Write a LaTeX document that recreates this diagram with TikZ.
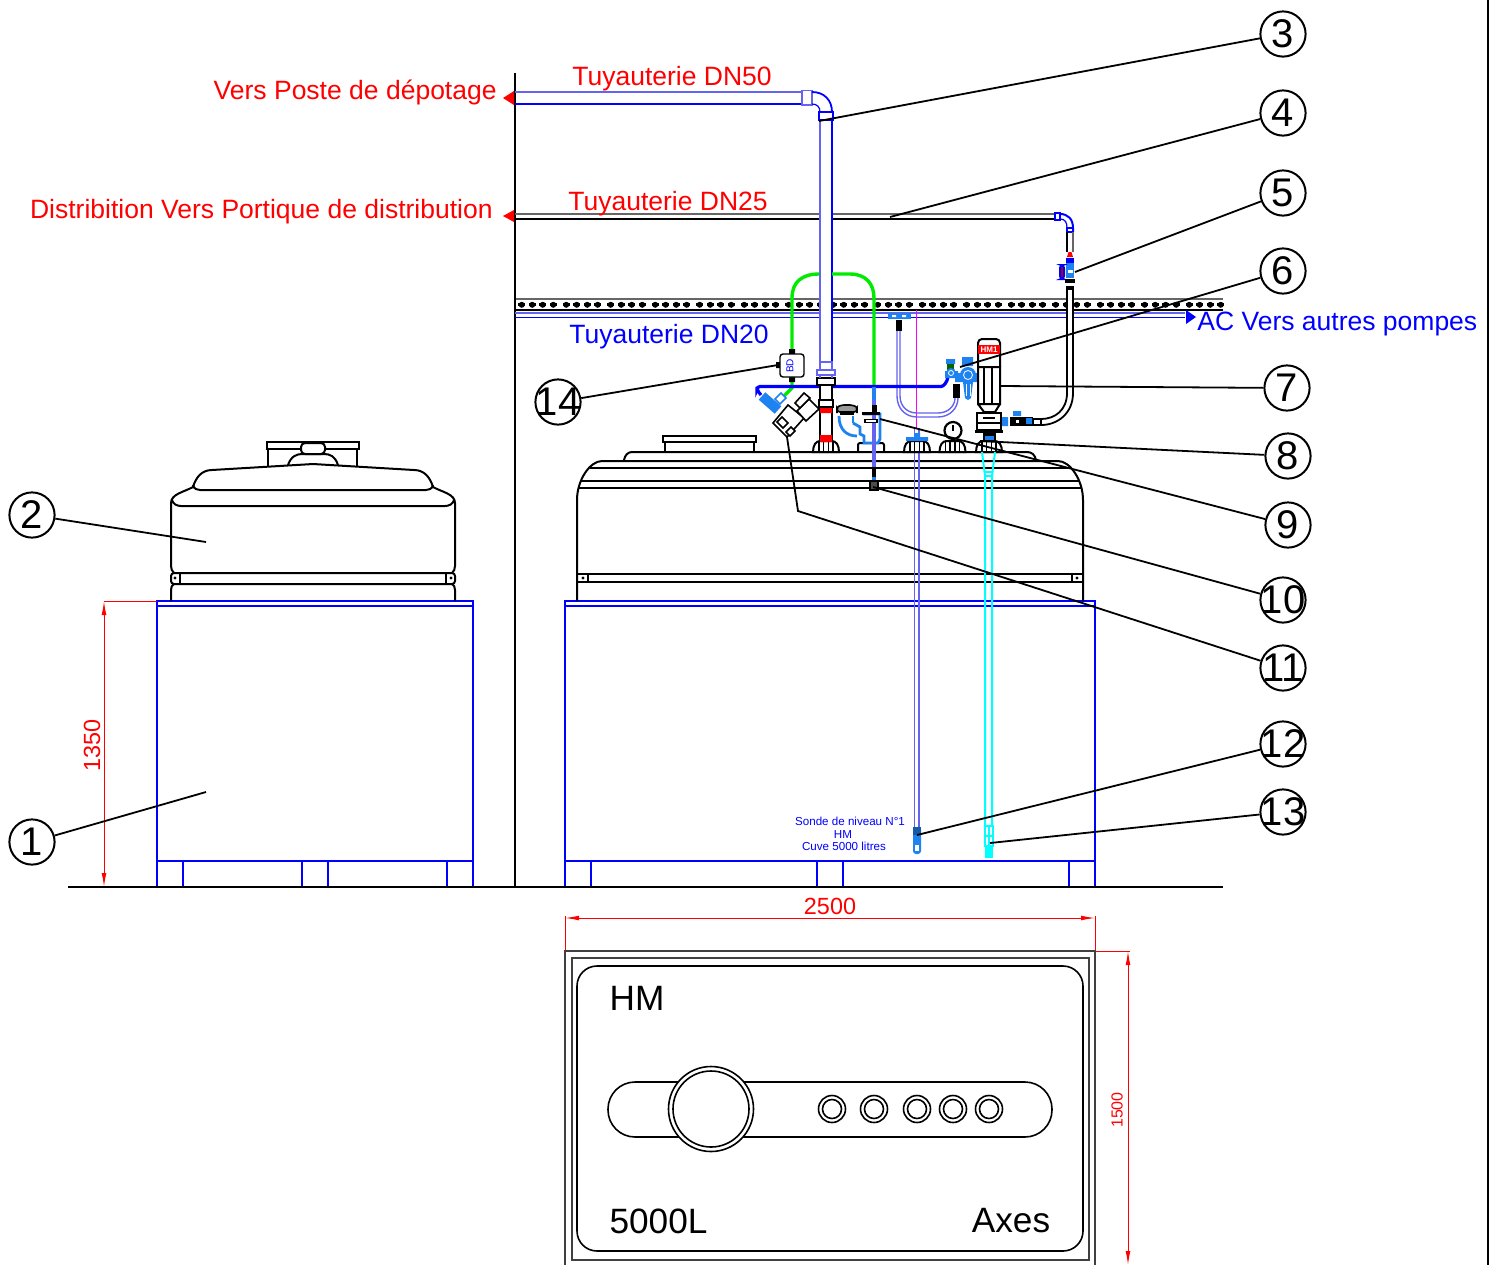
\documentclass[tikz,border=0pt]{standalone}
\usepackage{fontspec}
\setmainfont{Liberation Sans}
\usetikzlibrary{arrows.meta}
\definecolor{pipeblue}{RGB}{0,0,255}
\definecolor{softblue}{RGB}{100,100,240}
\definecolor{fitblue}{RGB}{30,130,240}
\definecolor{hosegreen}{RGB}{0,235,0}
\definecolor{tubecyan}{RGB}{0,255,255}
\definecolor{tubemag}{RGB}{255,0,255}
\tikzset{
  tk/.style={draw=black, line width=1pt},
  fine/.style={draw=black, line width=0.6pt},
  stand/.style={draw=pipeblue, line width=1pt},
  bluep/.style={draw=pipeblue, line width=0.6pt},
  softp/.style={draw=softblue, line width=0.9pt},
  fitp/.style={draw=fitblue, line width=1.4pt},
  cyanp/.style={draw=tubecyan, line width=1pt},
  lead/.style={draw=black, line width=0.9pt},
  dim/.style={draw=red, line width=0.5pt},
  dimboth/.style={dim, {Latex[length=7pt,width=2.4pt]}-{Latex[length=7pt,width=2.4pt]}},
  callout/.style={circle, draw=black, line width=1pt, fill=white, minimum size=22.6pt, inner sep=0pt, font=\fontsize{20}{22}\selectfont},
  redtxt/.style={text=red, inner sep=0pt, font=\fontsize{13.25}{15}\selectfont},
  bluetxt/.style={text=pipeblue, inner sep=0pt, font=\fontsize{13.25}{15}\selectfont},
  dimtxt/.style={text=red, inner sep=0pt, font=\fontsize{11.7}{13}\selectfont},
  bigtxt/.style={inner sep=0pt, font=\fontsize{17.6}{20}\selectfont},
  sondetxt/.style={text=pipeblue, inner sep=0pt, font=\fontsize{5.8}{6.2}\selectfont},
}
\begin{document}
\begin{tikzpicture}[x=0.5pt,y=-0.5pt] % units are reference pixels
\useasboundingbox (0,0) rectangle (1494,1265);
\draw[tk] (1488,0) -- (1488,1265);

% stands
\foreach \xa/\xb/\fa/\fb in {157/473/302/328, 565/1095/817/843}
{
    \draw[stand] (\xa,601) rectangle (\xb,887);
    \draw[stand] (\xa,606) -- (\xb,606);
    \draw[stand] (\xa,861) -- (\xb,861);
    \draw[stand] (\xa+26,861) -- (\xa+26,887);
    \draw[stand] (\xb-26,861) -- (\xb-26,887);
    \draw[stand] (\fa,861) -- (\fa,887);
    \draw[stand] (\fb,861) -- (\fb,887);
}
\draw[line width=1.2pt] (68,887) -- (1223,887);
\draw[line width=1pt] (515,73) -- (515,887);

% small tank
\draw[tk] (267,442) rectangle (359,449);
\draw[tk] (268,449) -- (268,466) (357,449) -- (357,466);
\draw[tk, fill=white, rounded corners=2pt] (301,443) rectangle (325,454);
\draw[tk] (288,465) .. controls (291,456) and (297,454) .. (302,454) -- (324,454) .. controls (330,454) and (335,456) .. (338,465);
\draw[tk] (171,601) -- (171,590) .. controls (171,587) and (172,585) .. (174,584);
\draw[tk] (455,601) -- (455,590) .. controls (455,587) and (454,585) .. (452,584);
\draw[tk] (174,573) .. controls (172,571) and (171,569) .. (171,566) -- (171,503) .. controls (171,494) and (184,492) .. (193,487)
  .. controls (196,477) and (202,470) .. (212,470) -- (313,464) -- (414,470) .. controls (424,470) and (430,477) .. (433,487)
  .. controls (442,492) and (455,494) .. (455,503) -- (455,566) .. controls (455,569) and (454,571) .. (452,573);
\draw[tk] (193,485) .. controls (194,489) and (197,490) .. (200,490) -- (426,490) .. controls (429,490) and (432,489) .. (433,485);
\draw[tk] (172,500) .. controls (173,504) and (177,506) .. (181,506) -- (445,506) .. controls (449,506) and (453,504) .. (454,500);
\draw[tk, rounded corners=1.5pt] (171,573) rectangle (455,584);
\draw[tk] (180,573) -- (180,584) (446,573) -- (446,584);
\fill (175,578) circle (1.6) (451,578) circle (1.6);

% big tank
\draw[tk] (663,436) rectangle (756,442);
\draw[tk] (665,442) -- (665,452) (754,442) -- (754,452);
\draw[tk] (624,460) .. controls (625,455) and (628,452) .. (632,452) -- (1027,452) .. controls (1032,452) and (1035,455) .. (1036,460);
\draw[tk] (577,601) -- (577,500) .. controls (577,480) and (590,461) .. (602,461) -- (1058,461) .. controls (1070,461) and (1083,480) .. (1083,500) -- (1083,601);
\draw[tk] (590,468) -- (1070,468);
\draw[tk] (581,481) -- (1079,481);
\draw[tk] (579,488) -- (1081,488);
\draw[tk] (577,574) -- (1083,574) (577,582) -- (1083,582);
\draw[tk] (588,574) -- (588,582) (1072,574) -- (1072,582);
\fill (583,578) circle (1.6) (1077,578) circle (1.6);

% rail
\draw[draw=black!60, line width=1.2pt] (516,299) -- (1223,299);
\draw[line width=1pt] (516,310) -- (1223,310);
\foreach \g in {0,...,15}
{
    \foreach \i in {0,...,3}
    {
        \pgfmathsetmacro\dotx{521.7+44.5*\g+10.5*\i}
        \fill (\dotx,304.8) circle (3);
        \fill (\dotx-3.6,303.2) rectangle (\dotx+3.6,306.4);
    }
}

% DN20 line
\draw[softp] (515,313) -- (1185,313);
\draw[bluep] (515,317.5) -- (1185,317.5);
\fill[pipeblue] (1186,310) -- (1196,317) -- (1186,324) -- cycle;

% DN25 line
\draw[draw=black!60, line width=1pt] (515,214) -- (1055,214);
\draw[tk, line width=0.7pt] (515,219) -- (1055,219);
\fill[red] (514,210) -- (503,216) -- (514,222) -- cycle;
\draw[bluep, fill=white] (1055,213) rectangle (1060,220);
\draw[bluep, line width=1pt] (1060,214) .. controls (1068,214) and (1073,219) .. (1073,228) -- (1073,232);
\draw[bluep] (1060,219) .. controls (1065,219) and (1067,222) .. (1067,228) -- (1067,232);
\draw[bluep, fill=white] (1067,228) rectangle (1073,232);
\draw[tk, line width=0.7pt] (1067,232) -- (1067,252);
\draw[draw=black!60, line width=1pt] (1073,232) -- (1073,252);
\fill[red] (1067,257) -- (1068.5,252) -- (1071.5,252) -- (1073,257) -- cycle;
\fill[fitblue] (1066,258) rectangle (1074,278);
\fill[pipeblue] (1066,258) rectangle (1074,263);
\fill[white] (1068,270) rectangle (1073,273);
\draw[pipeblue, line width=1pt, fill=red!70!black, rounded corners=1.5pt] (1060,265) rectangle (1064,279);
\fill (1065,279) rectangle (1075,283);
\fill (1066,286) rectangle (1074,290);
\fill[white] (1067,290) rectangle (1073,395);
\draw[line width=0.9pt] (1067,290) -- (1067,393) .. controls (1067,410) and (1055,419) .. (1041,419);
\draw[line width=0.9pt] (1073,290) -- (1073,393) .. controls (1073,413) and (1058,425) .. (1041,425);
\draw[tk, line width=0.7pt] (1033,419) rectangle (1041,425);
\fill (1010,417) rectangle (1033,426);
\fill[white] (1016,420) rectangle (1019,423);
\fill[fitblue] (1000,417) rectangle (1008,426) (1013,411) rectangle (1021,416) (1026,418) rectangle (1032,424);

% DN50 line
\fill[white] (819.5,120) rectangle (831.5,362);
\draw[softp] (820,120) -- (820,362);
\draw[bluep] (832,120) -- (832,362);
\draw[softp, line width=0.7pt] (515,92) -- (802,92);
\draw[bluep] (515,104) -- (802,104);
\fill[red] (514,91) -- (503,98) -- (514,105) -- cycle;
\draw[softp, fill=white] (802,90.5) rectangle (812,105);
\draw[bluep, line width=0.9pt] (812,92) .. controls (824,92) and (832,100) .. (832,112);
\draw[bluep] (812,104) .. controls (817,104) and (820,107) .. (820,112);
\draw[bluep, fill=white] (819,112) rectangle (833,120);

% green hose
\draw[hosegreen, line width=1.7pt] (792,352) -- (792,298) .. controls (792,282) and (802,274) .. (819,274);
\draw[hosegreen, line width=1.7pt] (832,274) -- (850,274) .. controls (866,274) and (874,284) .. (874,298) -- (874,387);
\draw[hosegreen, line width=1.7pt] (792,378) -- (792,388) -- (782,398);

% magenta and level probe
\draw[tubemag, line width=0.9pt] (916.5,310) -- (916.5,428);
\draw[softp] (914.5,428) -- (914.5,828) (919,428) -- (919,828);
\fill[fitblue, rounded corners=1.5pt] (913,827) rectangle (921,854);
\fill[fitblue!70!black] (913,827) rectangle (921,835);
\fill[white] (915,845) rectangle (919,851);

% air line
\draw[softp, line width=0.7pt, fill=none] (897,330) -- (897,396) .. controls (897,408) and (905,417) .. (917,417) -- (938,417) .. controls (950,417) and (958,408) .. (958,398);
\draw[softp, line width=0.7pt, fill=none] (900,330) -- (900,396) .. controls (900,406) and (907,413) .. (917,413) -- (938,413) .. controls (948,413) and (955,406) .. (955,398);
\fill[fitblue] (888,313) rectangle (911,319);
\fill[white] (892,315) rectangle (896,317) (902,315) rectangle (906,317);
\fill (896,320) rectangle (902,331);
\fill (953,384) rectangle (960,398);
\draw[pipeblue, line width=1.6pt, rounded corners=1.5pt] (761,395) -- (757,390) -- (757,386.5) -- (938,386.5) .. controls (944,386.5) and (947,382) .. (948,377);
\draw[fitblue, line width=2pt] (874,387) -- (874,400);
\fill[fitblue] (945,371) rectangle (958,378) (946,359) rectangle (955,364);
\fill[green!40!black] (947,364) rectangle (954,371);
\fill[fitblue] (955,373) rectangle (977,382) (962,357) rectangle (973,366);
\fill[fitblue] (963,382) -- (973,382) -- (971,398) -- (968,400) -- (965,398) -- cycle;
\draw[white, line width=0.5pt] (966,384) -- (966,396) (970,384) -- (970,396);
\fill[fitblue] (968,375) circle (8);
\draw[white, line width=0.4pt] (968,375) circle (4.5);
\fill[fitblue] (951,373) circle (5);
\draw[white, line width=0.4pt] (951,373) circle (2.5);

% bases on the tank
\foreach \c in {826,917,952.5,989}
{
    \fill[white] (\c-13,440) rectangle (\c+13,452);
    \draw[tk] (\c-13,452) .. controls (\c-13,445) and (\c-10,441) .. (\c-6,441) -- (\c+6,441) .. controls (\c+10,441) and (\c+13,445) .. (\c+13,452) -- cycle;
    \draw[fine] (\c-7,441) -- (\c-7,452) (\c-2.5,441) -- (\c-2.5,452) (\c+2.5,441) -- (\c+2.5,452) (\c+7,441) -- (\c+7,452);
}
\fill[fitblue] (906,437) rectangle (928,441) (914,433) rectangle (920,437);
\draw[tk, rounded corners=1pt] (858,452) -- (858,443) -- (884,443) -- (884,452);

% fill tube
\draw[tk, fill=white] (820,378) rectangle (832,440);
\draw[tk, fill=white] (817,378) rectangle (835,385);
\fill[red] (820,407) rectangle (832,413) (820,435) rectangle (832,442);
\draw[tk, fill=white] (819,400) rectangle (833,407);
\draw[softp, fill=white] (820,362) rectangle (832,370);
\draw[softp, fill=white] (817,370) rectangle (835,375);
\draw[softp] (820,375) -- (820,378) (832,375) -- (832,378);

% sensor valve
\draw[fine, fill=white, line width=0.8pt] (773,423) -- (788,405) -- (804,418) -- (787,437) -- cycle;
\draw[fine, fill=white, line width=0.8pt] (797,411) -- (809,399) -- (819,409) -- (806,421) -- cycle;
\draw[fine, fill=white, line width=0.8pt] (804,393) -- (810,398) -- (800,408) -- (795,403) -- cycle;
\draw[fine, fill=white, line width=0.8pt] (777,422) -- (783,428) -- (788,423) -- (782,417) -- cycle;
\draw[fine, fill=white, line width=0.8pt] (786,432) -- (791,427) -- (795,431) -- (790,436) -- cycle;
\fill[fitblue] (765.3,392.3) -- (781.3,406.3) -- (774.7,413.7) -- (758.7,399.7) -- cycle;
\draw[fitblue, line width=0.8pt, fill=white] (781,393) -- (786,398) -- (780,404) -- (775,399) -- cycle;

% BD box
\fill (789,349) rectangle (795,354) (789,377) rectangle (795,382) (776,362) rectangle (780,368);
\draw[tk, line width=0.7pt, rounded corners=1.5pt, fill=white] (780,354) rectangle (804,377);
\node[text=pipeblue, rotate=90, inner sep=0pt, font=\fontsize{5}{5}\selectfont] (bd) at (790,366) {BD};

% overfill
\draw[fitp, fill=white] (863,414) -- (880,414) -- (880,439) -- (878,443) -- (864,443) -- (864,436) -- (860,434) -- (860,427) -- (853,423);
\draw[softp, line width=1.7pt] (874,400) -- (874,467);
\fill (862,411.5) rectangle (880,414.5);
\fill (872,405) rectangle (877,412);
\fill (864,419) rectangle (878,423);
\fill[white] (866,420) rectangle (876,422);
\fill (872,467) rectangle (876,477);
\fill[fitblue] (872,477) rectangle (876,481);
\draw[tk, fill=black!70] (870,481) rectangle (878,490);
\draw[tk, line width=0.8pt, fill=black!40, rounded corners=1.5pt] (837,410) .. controls (838,406) and (843,405) .. (847,405) .. controls (851,405) and (856,406) .. (857,410) -- (857,412) -- (837,412) -- cycle;
\fill (840,412) rectangle (854,415);
\draw[fitp] (839,416) .. controls (839,430) and (847,436) .. (857,436);
\draw[fitp] (853,416) -- (853,423);

% pump
\draw[tk, rounded corners=2pt, fill=white] (978,367) -- (978,339) -- (1000,339) -- (1000,367);
\fill[red] (978,345) rectangle (1000,354);
\node[text=white, inner sep=0pt, font=\fontsize{4}{4}\bfseries\selectfont] (hm1) at (989,349.5) {HM1};
\draw[tk, fill=white] (978,367) rectangle (1000,404) -- (1000,404) -- (995,412) -- (984,412) -- (978,404);
\draw[tk] (984,367) -- (984,404) (992,367) -- (992,404);
\draw[tk, fill=white] (977,413) rectangle (1001,430);
\draw[tk] (983,418) -- (995,418) (978,423) -- (1000,423);
\fill (975,430) rectangle (1003,433);
\fill (983,433) rectangle (996,440);
\fill[fitblue] (985,436) rectangle (994,440);
\draw[cyanp] (982,452) -- (985,476) -- (985,826) (995,452) -- (992,476) -- (992,826);
\draw[cyanp] (985,476) -- (992,476) (985,472) -- (992,472);
\draw[cyanp] (985,826) rectangle (993,846);
\draw[cyanp] (985,836) -- (993,836) (989,826) -- (989,846);
\fill[tubecyan] (985,847) rectangle (993,858);

% gauge
\draw[line width=1.1pt, fill=white] (953,430.5) circle (8.5);
\draw[line width=0.8pt] (953,425) -- (953,431);
\fill (951.5,438) rectangle (954.5,441);

% dimensions
\draw[dim] (104,601) -- (157,601);
\draw[dimboth] (104,601) -- (104,887);
\node[dimtxt, rotate=90] (d1350) at (92,745) {1350};
\draw[dim] (565,951) -- (565,916) (1095,951) -- (1095,916);
\draw[dimboth] (565,918) -- (1095,918);
\node[dimtxt] (d2500) at (830,906) {2500};
\draw[dim] (1095,951) -- (1130,951);
\draw[dimboth] (1128,951) -- (1128,1265);
\node[text=red, rotate=90, inner sep=0pt, font=\fontsize{8}{9}\selectfont] (d1500) at (1117,1110) {1500};

% plan view
\draw[draw=black!75, line width=0.7pt] (565,1265) -- (565,951) -- (1095,951) -- (1095,1265);
\draw[draw=black!75, line width=0.6pt] (572,1260) -- (572,958) -- (1089,958) -- (1089,1260) -- cycle;
\draw[tk, line width=0.8pt, rounded corners=10pt] (577,966) rectangle (1083,1251);
\draw[tk, line width=0.8pt, rounded corners=13.5pt] (608,1082) rectangle (1052,1137);
\draw[tk, line width=0.8pt, fill=white] (711,1109) circle (42.5);
\draw[tk, line width=0.8pt] (711,1109) circle (38);
\foreach \c in {832,874,917,953,989}
{
    \draw[tk, line width=0.8pt] (\c,1109) circle (13.5);
    \draw[tk, line width=0.8pt] (\c,1109) circle (9.5);
}
\node[bigtxt] (hm) at (637,998) {HM};
\node[bigtxt] (cap) at (658.5,1221) {5000L};
\node[bigtxt] (axes) at (1011,1221) {Axes};

% texts
\node[redtxt, anchor=east] (tdep) at (497,92.5) {Vers Poste de dépotage};
\node[redtxt, anchor=east] (tdis) at (493,212) {Distribition Vers Portique de distribution};
\node[redtxt] (t50) at (672,79) {Tuyauterie DN50};
\node[redtxt] (t25) at (668,204) {Tuyauterie DN25};
\node[bluetxt] (t20) at (669,337) {Tuyauterie DN20};
\node[bluetxt, anchor=west] (tac) at (1197,324) {AC Vers autres pompes};
\node[sondetxt, align=center] (ts1) at (850,821) {Sonde de niveau N°1};
\node[sondetxt] (ts2) at (843,834) {HM};
\node[sondetxt] (ts3) at (844,846) {Cuve 5000 litres};

% callouts
\foreach \k/\cx/\cy/\px/\py in {1/32/842/206/792, 2/32/515/206/542, 3/1283/34/819/121, 4/1283/113/890/217, 5/1283/193/1075/272,
    6/1283/271/960/367, 7/1287/388/1000/386, 8/1288/456/980/441, 9/1288/525/880/419, 10/1283/600/873/487,
    12/1283/744/917/835, 13/1283/812/990/843, 14/558/402/778/365}
{
    \coordinate (p\k) at (\px,\py);
    \node[callout] (c\k) at (\cx,\cy) {\makebox[0pt]{\k}};
    \draw[lead] (c\k) -- (p\k);
}
\coordinate (p11a) at (798,511);
\coordinate (p11) at (787,437);
\node[callout] (c11) at (1283,668) {\makebox[0pt]{11}};
\draw[lead] (c11) -- (p11a) -- (p11);
\end{tikzpicture}
\end{document}
